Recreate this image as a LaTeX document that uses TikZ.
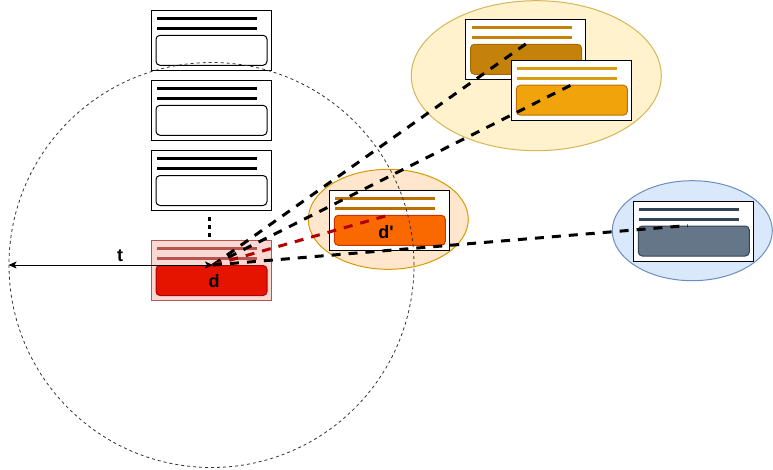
\documentclass[tikz,border=0pt]{standalone}
\usepackage{fontspec}
\setmainfont{Liberation Sans}
\usetikzlibrary{calc,shapes.geometric,arrows.meta}
\definecolor{redfill}{HTML}{FAD9D5}
\definecolor{redline}{HTML}{B85450}
\definecolor{redin}{HTML}{E51400}
\definecolor{redindraw}{HTML}{B20000}
\definecolor{orline}{HTML}{BD7000}
\definecolor{orin}{HTML}{FA6800}
\definecolor{orindraw}{HTML}{C73500}
\definecolor{midell}{HTML}{FFE6CC}
\definecolor{midelld}{HTML}{D79B00}
\definecolor{topell}{HTML}{FFF2CC}
\definecolor{topelld}{HTML}{D6B656}
\definecolor{aline}{HTML}{C4820A}
\definecolor{ain}{HTML}{C4820A}
\definecolor{aindraw}{HTML}{A86A00}
\definecolor{bline}{HTML}{D99E10}
\definecolor{bin}{HTML}{F0A30A}
\definecolor{bindraw}{HTML}{BD7000}
\definecolor{blueell}{HTML}{DAE8FC}
\definecolor{blueelld}{HTML}{6C8EBF}
\definecolor{blueline}{HTML}{314354}
\definecolor{bluein}{HTML}{647687}
\newcommand\mkcard[8]{%
  \node[cardbox, fill=#4, draw=#5] (#1) at (#2,#3) {};
  \draw[cardline, draw=#6] ($(#1)+(-54,-22)$) -- ($(#1)+(46,-22)$);
  \draw[cardline, draw=#6] ($(#1)+(-54,-12)$) -- ($(#1)+(46,-12)$);
  \node[innerbox, fill=#7, draw=#8] (#1-in) at ($(#1)+(0.5,10)$) {};
}
\begin{document}
\begin{tikzpicture}[x=1pt,y=-1pt,
  cardbox/.style={rectangle, minimum width=120pt, minimum height=60pt, inner sep=0pt, line width=1pt},
  cardline/.style={line width=3pt, line cap=butt},
  innerbox/.style={rectangle, rounded corners=4pt, minimum width=111pt, minimum height=30pt, inner sep=0pt, line width=1pt},
  ell/.style={ellipse, inner sep=0pt, line width=1pt},
  lbl/.style={inner sep=0pt, font=\fontsize{18}{20}\selectfont\bfseries},
  conn/.style={line width=3pt, dash pattern=on 9pt off 8pt},
  dotmark/.style={rectangle, fill=black, inner sep=0pt, minimum width=3pt, minimum height=4pt},
  twoway/.style={line width=1pt, {Stealth[length=8pt,width=7pt,inset=2pt]}-{Stealth[length=8pt,width=7pt,inset=2pt]}}
]
\useasboundingbox (0,0) rectangle (773,469);
% ellipses
\node[ell, fill=topell, draw=topelld, minimum width=250pt, minimum height=150pt] (topgrp) at (536.3,75.7) {};
\node[ell, fill=midell, draw=midelld, minimum width=160pt, minimum height=100pt] (midgrp) at (388.3,219.3) {};
\node[ell, fill=blueell, draw=blueelld, minimum width=160pt, minimum height=100pt] (bluegrp) at (692.3,230.7) {};
% cards
\mkcard{c1}{211}{40.3}{white}{black}{black}{white}{black}
\mkcard{c2}{211}{110.3}{white}{black}{black}{white}{black}
\mkcard{c3}{211}{180.5}{white}{black}{black}{white}{black}
\mkcard{cd}{211}{270.5}{redfill}{redline}{redline}{redin}{redindraw}
\mkcard{cdp}{389.3}{220.3}{white}{black}{orline}{orin}{orindraw}
\mkcard{ca}{525.5}{49.3}{white}{black}{aline}{ain}{aindraw}
\mkcard{cb}{571.3}{90.2}{white}{black}{bline}{bin}{bindraw}
\mkcard{cbl}{693.3}{231}{white}{black}{blueline}{bluein}{blueline}
% dots
\node[dotmark] (dot1) at (209.5,219) {};
\node[dotmark] (dot2) at (209.5,227) {};
\node[dotmark] (dot3) at (209.5,235) {};
% labels
\node[lbl] (dlabel) at (214,281.5) {d};
\node[lbl] (dplabel) at (386,232.5) {d\textquotesingle};
\node[lbl] (tlabel) at (120,255.5) {t};
% connectors
\coordinate (dpt) at (213,265);
\draw[conn] (dpt) -- (ca-in.north);
\draw[conn] (dpt) -- (cb-in.north);
\draw[conn, draw=redindraw] (dpt) -- (cdp-in.north);
\draw[conn] (dpt) -- ($(cbl-in.north)+(-6,0)$);
% range circle
\node[circle, draw=black!80, line width=0.8pt, dash pattern=on 3pt off 3pt, minimum size=405pt, inner sep=0pt] (range) at (211.5,265) {};
\draw[twoway] (range.west) -- (dpt);
\end{tikzpicture}
\end{document}
